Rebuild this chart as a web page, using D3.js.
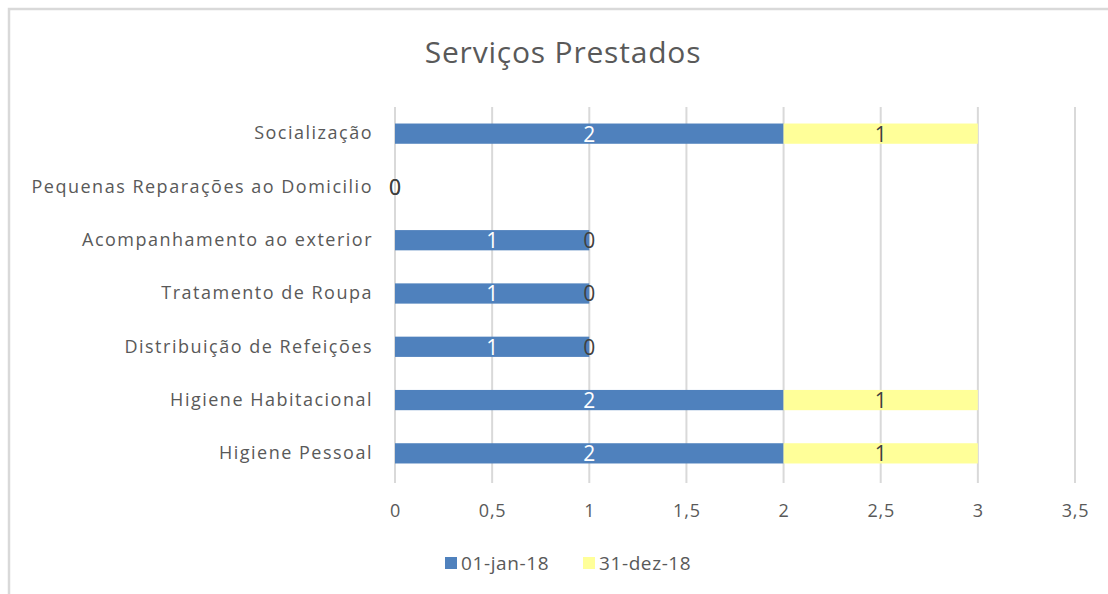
<!DOCTYPE html>
<html lang="pt">
<head>
<meta charset="UTF-8">
<title>Serviços Prestados</title>
<script src="https://d3js.org/d3.v7.min.js"></script>
<style>
  html, body { margin: 0; padding: 0; background: #fff; }
  svg text { font-family: "Open Sans", "Noto Sans", sans-serif; }
</style>
</head>
<body>
<svg id="chart" width="1108" height="594"></svg>
<script>
// categorias, de cima para baixo
var categorias = [
  "Socialização",
  "Pequenas Reparações ao Domicilio",
  "Acompanhamento ao exterior",
  "Tratamento de Roupa",
  "Distribuição de Refeições",
  "Higiene Habitacional",
  "Higiene Pessoal"
];
var series = ["01-jan-18", "31-dez-18"];
var valoresJan = [2, 0, 1, 1, 1, 2, 2];
var valoresDez = [1, 0, 0, 0, 0, 1, 1];
var ticksX = [0, 0.5, 1, 1.5, 2, 2.5, 3, 3.5];

var cores = ["#4f81bd", "#ffff99"];
var coresRotulo = ["#ffffff", "#404040"];

var svg = d3.select("#chart");

// moldura (só se vê em cima e à esquerda)
svg.append("path")
  .attr("d", "M9,594 V9 H1108")
  .attr("fill", "none")
  .attr("stroke", "#d9d9d9")
  .attr("stroke-width", 2.5);

svg.append("text")
  .attr("x", 563).attr("y", 63)
  .attr("text-anchor", "middle")
  .attr("font-size", 30)
  .attr("letter-spacing", 0.8)
  .attr("fill", "#595959")
  .text("Serviços Prestados");

var x = d3.scaleLinear().domain([0, 3.5]).range([395, 1075]);
var y = d3.scaleBand().domain(categorias).range([107, 480]).paddingInner(0.62).paddingOuter(0.31);

// grelha
svg.append("g").selectAll("line")
  .data(ticksX)
  .join("line")
  .attr("x1", d => x(d)).attr("x2", d => x(d))
  .attr("y1", 107).attr("y2", 483)
  .attr("stroke", "#d9d9d9")
  .attr("stroke-width", 2);

// eixo x
var eixoX = svg.append("g")
  .attr("transform", "translate(0,483)")
  .call(d3.axisBottom(x).tickValues(ticksX).tickSize(0).tickPadding(21)
    .tickFormat(d => String(d).replace(".", ",")));
eixoX.select(".domain").remove();
eixoX.selectAll("text").attr("font-size", 18).attr("letter-spacing", 0.8).attr("fill", "#595959")
  .style("font-family", "Open Sans, sans-serif");

// eixo y
var eixoY = svg.append("g")
  .attr("transform", "translate(395,0)")
  .call(d3.axisLeft(y).tickSize(0).tickPadding(22));
eixoY.select(".domain").remove();
eixoY.selectAll("text").attr("font-size", 18).attr("letter-spacing", 1.5).attr("fill", "#595959")
  .style("font-family", "Open Sans, sans-serif");

// dados empilhados
var linhas = categorias.map((c, i) => ({ cat: c, jan: valoresJan[i], dez: valoresDez[i] }));
var pilha = d3.stack().keys(["jan", "dez"])(linhas);

var grupos = svg.append("g").selectAll("g")
  .data(pilha)
  .join("g")
  .attr("fill", (d, i) => cores[i]);

grupos.selectAll("rect")
  .data(d => d)
  .join("rect")
  .attr("x", d => x(d[0]))
  .attr("width", d => x(d[1]) - x(d[0]))
  .attr("y", d => y(d.data.cat))
  .attr("height", y.bandwidth());

// rótulos de valores
svg.append("g").selectAll("g")
  .data(pilha)
  .join("g")
  .each(function(s, i) {
    d3.select(this).selectAll("text")
      .data(s)
      .join("text")
      .attr("x", d => (x(d[0]) + x(d[1])) / 2)
      .attr("y", d => y(d.data.cat) + y.bandwidth() / 2)
      .attr("dy", "0.38em")
      .attr("text-anchor", "middle")
      .attr("font-size", 21)
      .attr("fill", d => (d[1] - d[0]) === 0 ? "#404040" : coresRotulo[i])
      .text(d => d[1] - d[0]);
  });

// legenda
var legenda = svg.append("g").attr("transform", "translate(445,563)");
var itens = legenda.selectAll("g")
  .data(series)
  .join("g")
  .attr("transform", (d, i) => "translate(" + (i * 138) + ",0)");
itens.append("rect")
  .attr("x", 0).attr("y", -6)
  .attr("width", 12).attr("height", 12)
  .attr("fill", (d, i) => cores[i]);
itens.append("text")
  .attr("x", 16).attr("dy", "0.36em")
  .attr("font-size", 19)
  .attr("letter-spacing", 0.6)
  .attr("fill", "#595959")
  .text(d => d);
</script>
</body>
</html>
